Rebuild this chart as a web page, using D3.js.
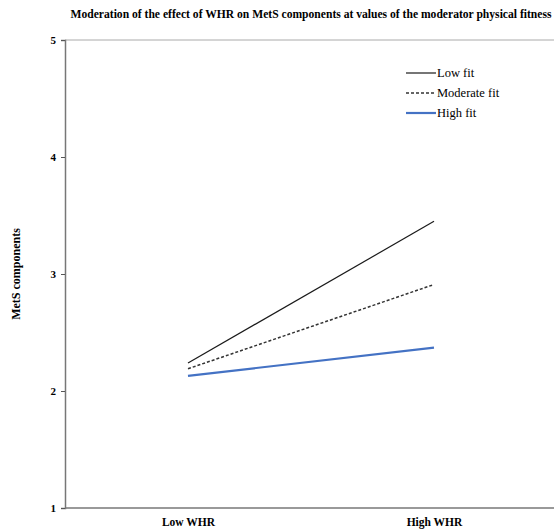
<!DOCTYPE html>
<html lang="en">

<head>
  <meta charset="UTF-8">
  <script src="https://d3js.org/d3.v7.min.js" charset="utf-8"></script>
  <title>Moderation plot</title>
  <style>
    body { margin: 0; background: #fff; }
    text { font-family: "Liberation Serif", "Times New Roman", serif; }
  </style>
</head>

<body>
  <script type="text/javascript">

    const w = 554;
    const h = 529;

    // data
    var categories = ["Low WHR", "High WHR"];
    var seriesNames = ["Low fit", "Moderate fit", "High fit"];
    var lowFit = [2.24, 3.45];
    var moderateFit = [2.19, 2.91];
    var highFit = [2.13, 2.37];
    var yTicks = [1, 2, 3, 4, 5];

    var series = [
      { name: seriesNames[0], values: lowFit, color: "#1a1a1a", dash: null, width: 1.2 },
      { name: seriesNames[1], values: moderateFit, color: "#333", dash: "3,2", width: 1.5 },
      { name: seriesNames[2], values: highFit, color: "#4472c4", dash: null, width: 2.2 }
    ];

    var svg = d3.select("body")
      .append("svg")
      .attr("width", w)
      .attr("height", h);

    var x = d3.scalePoint()
      .domain(categories)
      .range([65, 557])
      .padding(0.5);

    var y = d3.scaleLinear()
      .domain([1, 5])
      .range([508, 40]);

    // title
    svg.append("text")
      .attr("x", 311)
      .attr("y", 18)
      .attr("text-anchor", "middle")
      .attr("font-size", "11.6px")
      .attr("font-weight", "bold")
      .text("Moderation of the effect of WHR on MetS components at values of the moderator physical fitness");

    // top border line
    svg.append("line")
      .attr("x1", 65).attr("x2", w)
      .attr("y1", y(5)).attr("y2", y(5))
      .attr("stroke", "#aaa")
      .attr("stroke-width", 1);

    // y axis
    var yAxis = d3.axisLeft(y)
      .tickValues(yTicks)
      .tickSize(4)
      .tickFormat(d3.format("d"));

    var gy = svg.append("g")
      .attr("transform", "translate(65,0)")
      .call(yAxis);
    gy.select(".domain").attr("stroke", "#777").attr("stroke-width", 1.5);
    gy.selectAll(".tick line").attr("stroke", "#555");
    gy.selectAll(".tick text")
      .attr("font-family", "Liberation Serif, serif")
      .attr("font-size", "11px")
      .attr("font-weight", "bold")
      .attr("fill", "#000")
      .attr("x", -9);

    // x axis
    var xAxis = d3.axisBottom(x).tickSize(0).tickSizeOuter(0);
    var gx = svg.append("g")
      .attr("transform", "translate(0," + y(1) + ")")
      .call(xAxis);
    gx.select(".domain").attr("stroke", "#777").attr("stroke-width", 1.5)
      .attr("d", "M65,0H" + w);
    gx.selectAll(".tick text")
      .attr("font-family", "Liberation Serif, serif")
      .attr("font-size", "11.5px")
      .attr("font-weight", "bold")
      .attr("fill", "#000")
      .attr("dy", "0")
      .attr("y", 18);

    // y title
    svg.append("text")
      .attr("transform", "translate(20," + y(3) + ") rotate(-90)")
      .attr("text-anchor", "middle")
      .attr("font-size", "12px")
      .attr("font-weight", "bold")
      .text("MetS components");

    // lines
    var line = d3.line()
      .x(function (d, i) { return x(categories[i]); })
      .y(function (d) { return y(d); });

    svg.selectAll("path.series")
      .data(series)
      .enter()
      .append("path")
      .attr("class", "series")
      .attr("d", function (d) { return line(d.values); })
      .attr("fill", "none")
      .attr("stroke", function (d) { return d.color; })
      .attr("stroke-width", function (d) { return d.width; })
      .attr("stroke-dasharray", function (d) { return d.dash; });

    // legend
    var legend = svg.selectAll("g.legend")
      .data(series)
      .enter()
      .append("g")
      .attr("class", "legend")
      .attr("transform", function (d, i) { return "translate(406," + (73 + i * 20) + ")"; });

    legend.append("line")
      .attr("x1", 0).attr("x2", 30)
      .attr("y1", 0).attr("y2", 0)
      .attr("stroke", function (d) { return d.color; })
      .attr("stroke-width", function (d) { return d.width; })
      .attr("stroke-dasharray", function (d) { return d.dash; });

    legend.append("text")
      .attr("x", 31)
      .attr("y", 4)
      .attr("font-size", "12.5px")
      .text(function (d) { return d.name; });

  </script>
</body>

</html>
